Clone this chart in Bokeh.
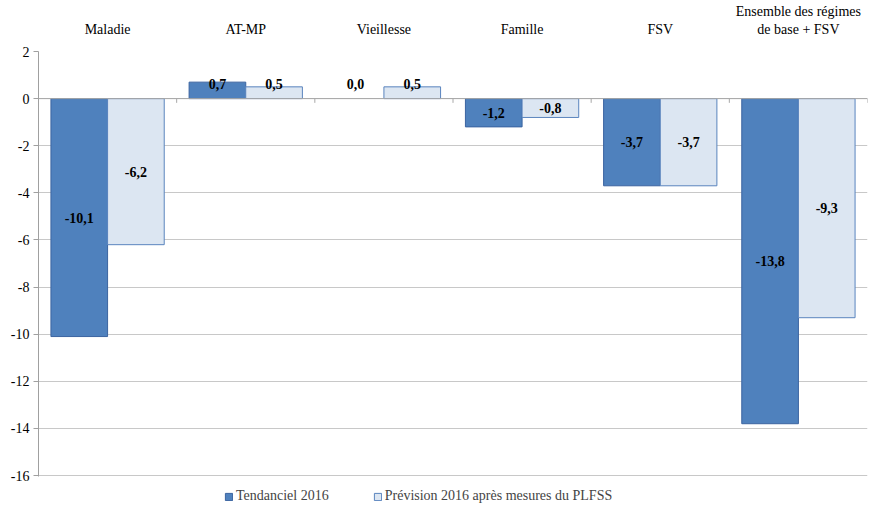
from bokeh.plotting import figure
from bokeh.layouts import column
from bokeh.models import ColumnDataSource, FixedTicker, LinearAxis, Range1d, Span, Legend, LegendItem, LabelSet
from bokeh.embed import file_html
from bokeh.resources import INLINE

categories = ["Maladie", "AT-MP", "Vieillesse", "Famille", "FSV", "Ensemble des régimes\nde base + FSV"]
tendanciel = [-10.1, 0.7, 0.0, -1.2, -3.7, -13.8]
prevision = [-6.2, 0.5, 0.5, -0.8, -3.7, -9.3]
series_names = ["Tendanciel 2016", "Prévision 2016 après mesures du PLFSS"]
y_ticks = [2, 0, -2, -4, -6, -8, -10, -12, -14, -16]

FONT = "Liberation Serif"
FS = "14px"
DARK = "#4F81BD"
DARK_LINE = "#3B64A0"
LIGHT = "#DCE6F2"
LIGHT_LINE = "#5A84BE"
W = 881

n = len(categories)
centers = [i + 0.5 for i in range(n)]
bw = 0.41

def fmt(v):
    return ("%.1f" % v).replace(".", ",")

def label_y(v):
    return v / 2 if v < 0 else 0.6

def make_src(vals, shift):
    return ColumnDataSource(dict(x=[c + shift for c in centers], top=vals,
                                 ymid=[label_y(v) for v in vals], lab=[fmt(v) for v in vals],
                                 la=[0.0 if v == 0 else 1.0 for v in vals]))

src1 = make_src(tendanciel, -bw / 2)
src2 = make_src(prevision, bw / 2)

p = figure(width=W, height=484, output_backend="svg", toolbar_location=None,
           x_range=Range1d(0, n), y_range=Range1d(-16.04, 2),
           min_border_left=38, min_border_right=W - 867, min_border_top=49, min_border_bottom=8)
p.outline_line_color = None
p.xaxis.visible = False
p.xgrid.visible = False

p.ygrid.ticker = FixedTicker(ticks=y_ticks)
p.ygrid.grid_line_color = "#C8C8C8"
p.ygrid.grid_line_width = 1

ya = p.yaxis[0]
ya.ticker = FixedTicker(ticks=y_ticks)
ya.major_label_overrides = {t: str(t) for t in y_ticks}
ya.axis_line_color = "#A0A0A0"
ya.major_tick_line_color = "#A0A0A0"
ya.major_tick_in = 0
ya.major_tick_out = 5
ya.minor_tick_line_color = None
ya.major_label_text_font = FONT
ya.major_label_text_font_size = FS
ya.major_label_text_color = "#000000"
ya.major_label_standoff = 4

top_axis = LinearAxis(ticker=FixedTicker(ticks=centers),
                      major_label_overrides={c: lab for c, lab in zip(centers, categories)})
top_axis.axis_line_color = None
top_axis.major_tick_line_color = None
top_axis.minor_tick_line_color = None
top_axis.major_label_text_font = FONT
top_axis.major_label_text_font_size = FS
top_axis.major_label_text_color = "#000000"
top_axis.major_label_standoff = 9
p.add_layout(top_axis, "above")

p.add_layout(Span(location=0, dimension="width", line_color="#A8A8A8", line_width=1))
bounds = [float(i) for i in range(1, n + 1)]
p.segment(x0=bounds, x1=bounds, y0=[0] * n, y1=[-0.18] * n, line_color="#A8A8A8", line_width=1)

p.vbar(x="x", top="top", bottom=0, width=bw, source=src1, fill_color=DARK, line_color=DARK_LINE, line_alpha="la")
p.vbar(x="x", top="top", bottom=0, width=bw, source=src2, fill_color=LIGHT, line_color=LIGHT_LINE, line_alpha="la")

for s in (src1, src2):
    p.add_layout(LabelSet(x="x", y="ymid", text="lab", source=s, text_align="center",
                          text_baseline="middle", text_font=FONT, text_font_size=FS,
                          text_font_style="bold", text_color="#000000"))

# legend strip (dummy renderers placed outside the visible range)
lg = figure(width=W, height=32, output_backend="svg", toolbar_location=None,
            x_range=Range1d(0, 1), y_range=Range1d(0, 1), min_border=0)
lg.outline_line_color = None
lg.axis.visible = False
lg.grid.visible = False
dummy = ColumnDataSource(dict(x=[-5.0], top=[-5.0]))
l1 = lg.vbar(x="x", top="top", bottom=-6, width=0.1, source=dummy, fill_color=DARK, line_color=DARK_LINE)
l2 = lg.vbar(x="x", top="top", bottom=-6, width=0.1, source=dummy, fill_color=LIGHT, line_color=LIGHT_LINE)
legend = Legend(items=[LegendItem(label=series_names[0], renderers=[l1]),
                       LegendItem(label=series_names[1], renderers=[l2])],
                orientation="horizontal", location=(186, 12))
legend.label_text_font = FONT
legend.label_text_font_size = FS
legend.label_height = 14
legend.glyph_width = 9
legend.glyph_height = 9
legend.label_standoff = 3
legend.spacing = 44
legend.padding = 2
legend.margin = 0
legend.border_line_color = None
legend.background_fill_alpha = 0
lg.add_layout(legend)

open("out.html", "w").write(file_html(column(p, lg, spacing=0), INLINE))
